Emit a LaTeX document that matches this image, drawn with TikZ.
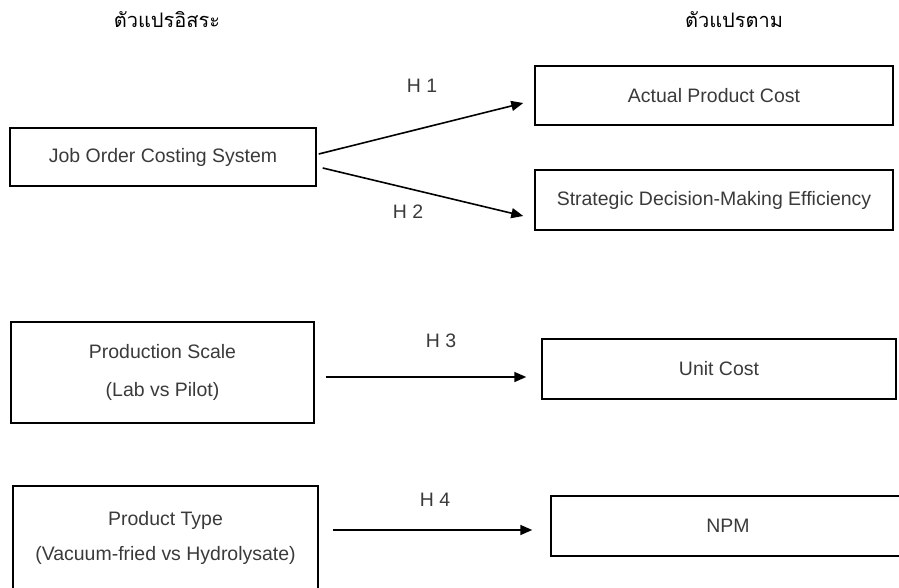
\documentclass[tikz,border=0pt]{standalone}
\usepackage{fontspec}
\setmainfont{Liberation Sans}
\newfontfamily\thaifont[Script=Thai]{Loma}
\usetikzlibrary{arrows.meta,calc}
\definecolor{txtgray}{HTML}{3A3A3A}
\begin{document}
\begin{tikzpicture}[x=0.75pt, y=-0.75pt]
  \tikzstyle{box} = [rectangle, inner sep=0pt, text centered, align=center, draw=black, line width=1.1pt, text=txtgray, font=\fontsize{14.6}{17}\selectfont]
  \tikzstyle{hlabel} = [text=txtgray, font=\fontsize{14.6}{17}\selectfont]
  \tikzstyle{head} = [text=black, font=\thaifont\fontsize{15}{18}\selectfont]
  \tikzstyle{arrow} = [line width=1.2pt, -{Triangle[length=9pt, width=7.5pt]}]
  \useasboundingbox (0,0) rectangle (899,588);

  \node (indep) [head] at (167,20) {ตัวแปรอิสระ};
  \node (dep) [head] at (734,20) {ตัวแปรตาม};
  \node (jocs) [box, minimum width=229.5pt, minimum height=43.5pt] at (163,157) {Job Order Costing System};
  \node (apc) [box, minimum width=268.5pt, minimum height=44.25pt] at (714,95.5) {Actual Product Cost};
  \node (sdme) [box, minimum width=268.5pt, minimum height=45pt] at (714,200) {Strategic Decision-Making Efficiency};
  \node (scale) [box, minimum width=227.25pt, minimum height=75.75pt] at (162.5,372.5) {Production Scale\\[11pt](Lab vs Pilot)};
  \node (ucost) [box, minimum width=265.5pt, minimum height=45pt] at (719,369) {Unit Cost};
  \node (ptype) [box, minimum width=228.75pt, minimum height=78pt] at (165.5,538) {Product Type\\[9pt](Vacuum-fried vs Hydrolysate)};
  \node (npm) [box, minimum width=265.5pt, minimum height=45pt] at (728,526) {NPM};
  \draw [arrow] ($(jocs.east)+(2,-3)$) -- ($(apc.west)+(-11,7.5)$);
  \draw [arrow] ($(jocs.east)+(6,11)$) -- ($(sdme.west)+(-11,16)$);
  \draw [arrow] ($(scale.east)+(11,4.5)$) -- ($(ucost.west)+(-15,8)$);
  \draw [arrow] ($(ptype.east)+(14,-8)$) -- ($(npm.west)+(-18,4)$);
  \node (h1) [hlabel] at (422,86) {H 1};
  \node (h2) [hlabel] at (408,212) {H 2};
  \node (h3) [hlabel] at (441,341) {H 3};
  \node (h4) [hlabel] at (435,500) {H 4};
\end{tikzpicture}
\end{document}
